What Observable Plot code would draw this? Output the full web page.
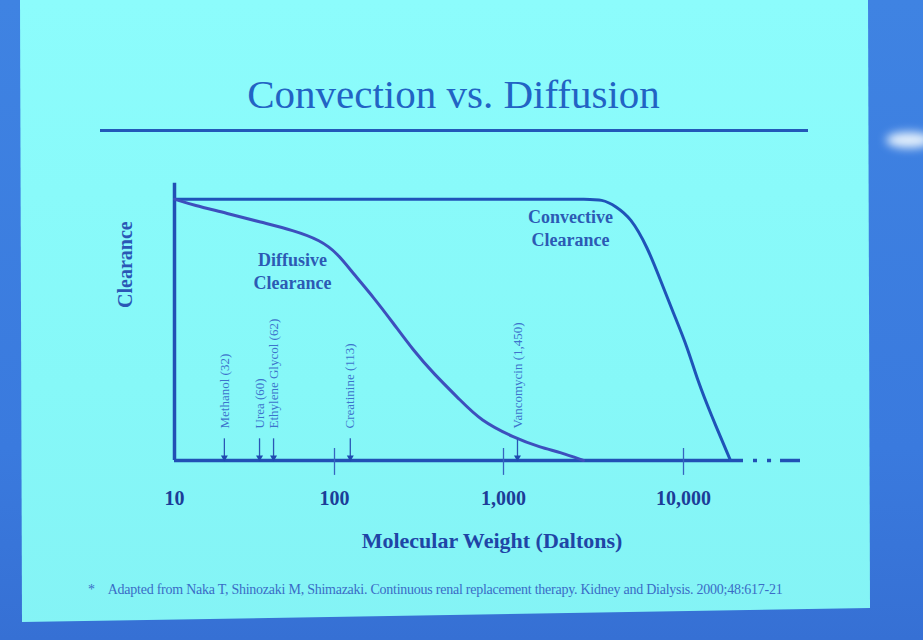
<!DOCTYPE html>
<html>
<head>
<meta charset="utf-8">
<script src="https://cdn.jsdelivr.net/npm/d3@7"></script>
<script src="https://cdn.jsdelivr.net/npm/@observablehq/plot@0.6"></script>
<style>
  html, body { margin: 0; padding: 0; }
  body { width: 923px; height: 640px; overflow: hidden; position: relative;
         background: linear-gradient(180deg, #3f83e2 0%, #3a7ade 70%, #3670d4 100%); }
  #slide { position: absolute; left: 0; top: 0; width: 923px; height: 640px;
           background: linear-gradient(180deg, #8cfcfc 0%, #86f8f8 60%, #84f3f5 100%);
           clip-path: polygon(20px 0px, 868px 0px, 870px 608px, 22px 622px); }
  #glare { position: absolute; left: 886px; top: 132px; width: 46px; height: 16px; border-radius: 50%;
           background: #f4fbff; filter: blur(5px); opacity: 0.9; }
  #title { position: absolute; left: 0; top: 74px; width: 907px; text-align: center;
           font-family: "Liberation Serif", serif; font-size: 41px; line-height: 41px; color: #2263c4; }
  #rule { position: absolute; left: 100px; top: 129px; width: 708px; height: 3px; background: #2358b8; }
  #chart { position: absolute; left: 0; top: 150px; }
  #note { position: absolute; left: 88px; top: 582px; font-family: "Liberation Serif", serif;
          font-size: 14px; color: #3a6cc6; white-space: nowrap; letter-spacing: -0.25px; }
</style>
</head>
<body>
<div id="slide"></div>
<div id="glare"></div>
<div id="title">Convection vs. Diffusion</div>
<div id="rule"></div>
<div id="chart"></div>
<div id="note">*&nbsp;&nbsp;&nbsp;&nbsp;Adapted from Naka T, Shinozaki M, Shimazaki. Continuous renal replacement therapy. Kidney and Dialysis. 2000;48:617-21</div>
<script>
// Convective clearance curve (molecular weight in Daltons, relative clearance)
const convectiveMW  = [10, 2680, 3590, 4190, 5080, 6310, 7450, 8800, 10520, 11960, 14130, 18240];
const convectiveClr = [1, 1, 1, 0.973, 0.931, 0.816, 0.69, 0.563, 0.433, 0.307, 0.18, 0];

// Diffusive clearance curve
const diffusiveMW  = [10, 13.1, 21.4, 34.5, 55.4, 81.7, 104, 129, 170, 223, 293, 385, 557, 731, 1137, 1605, 2074, 2782];
const diffusiveClr = [1, 0.977, 0.946, 0.912, 0.881, 0.843, 0.793, 0.716, 0.625, 0.525, 0.421, 0.333, 0.23, 0.153, 0.088, 0.05, 0.031, 0];

// Solute markers
const soluteNames = ["Methanol (32)", "Urea (60)", "Ethylene Glycol (62)", "Creatinine (113)", "Vancomycin (1,450)"];
const soluteMW    = [20.5, 34, 41.6, 124, 1196];

// Curve labels
const curveLabels = ["Diffusive\nClearance", "Convective\nClearance"];
const curveLabelMW  = [54.6, 2357];
const curveLabelClr = [0.728, 0.893];

// Axis ticks
const tickValues = [10, 100, 1000, 10000];
const crossTicks = [100, 1000, 10000];

// Axis end and broken continuation
const axisEndMW = 21540;
const breakStart = [24480, 29290, 34590];
const breakEnd   = [25760, 30840, 44670];

const conv = convectiveMW.map((x, i) => ({x, y: convectiveClr[i]}));
const diff = diffusiveMW.map((x, i) => ({x, y: diffusiveClr[i]}));
const solutes = soluteMW.map((x, i) => ({x, name: soluteNames[i]}));
const labels = curveLabelMW.map((x, i) => ({x, y: curveLabelClr[i], text: curveLabels[i]}));
const breaks = breakStart.map((s, i) => ({x1: s, x2: breakEnd[i]}));

const serif = "'Liberation Serif', 'Times New Roman', serif";

const chart = Plot.plot({
  width: 923,
  height: 420,
  marginLeft: 174,
  marginRight: 122,
  marginTop: 33,
  marginBottom: 110,
  style: {background: "transparent", fontFamily: serif, overflow: "visible"},
  x: {type: "log", domain: [10, 100, 1000, 10000, 45000], range: [174, 334, 503, 683, 800.6], axis: null},
  y: {domain: [0, 1.06], axis: null},
  marks: [
    // axes
    Plot.ruleX([10], {y1: 0, y2: 1.061, stroke: "#2150b5", strokeWidth: 3.5}),
    Plot.ruleY([0], {x1: 10, x2: axisEndMW, stroke: "#2150b5", strokeWidth: 3.5}),
    Plot.ruleY(breaks, {y: 0, x1: "x1", x2: "x2", stroke: "#2150b5", strokeWidth: 3.5}),
    Plot.ruleX(crossTicks, {y1: -0.057, y2: 0.046, stroke: "#3565c0", strokeWidth: 1.3}),
    Plot.axisX({ticks: tickValues, tickFormat: d3.format(","), tickSize: 0, tickPadding: 30,
                label: null, fontSize: 20, fontWeight: "bold", fill: "#1c3d98"}),
    Plot.text(["Molecular Weight (Daltons)"], {frameAnchor: "bottom", dy: 87, dx: 4,
                fontSize: 22, fontWeight: "bold", fill: "#1f45a6"}),
    Plot.text(["Clearance"], {frameAnchor: "left", rotate: -90, dx: -49, dy: -14,
                fontSize: 20, fontWeight: "bold", fill: "#2a57b6", letterSpacing: "0.5px"}),
    // curves
    Plot.line(conv, {x: "x", y: "y", curve: "basis", stroke: "#1f53b8", strokeWidth: 3}),
    Plot.line(diff, {x: "x", y: "y", curve: "basis", stroke: "#3d4fbd", strokeWidth: 3}),
    // solute markers
    Plot.ruleX(solutes, {x: "x", y1: 0, y2: 0.083, stroke: "#2a55b5", strokeWidth: 1.3}),
    Plot.dot(solutes, {x: "x", y: 0, dy: -3, symbol: "triangle", rotate: 180, r: 2.6, fill: "#1f4ab0", stroke: "none"}),
    Plot.text(solutes, {x: "x", y: 0, text: "name", rotate: -90, textAnchor: "start", dy: -32,
                        lineAnchor: "middle", fontSize: 13, fill: "#3d73cc"}),
    // curve labels
    Plot.text(labels, {x: "x", y: "y", text: "text", fontSize: 18, fontWeight: "bold", lineHeight: 1.28,
                       fill: "#2c5ab4", letterSpacing: "1.5px"})
  ]
});
document.getElementById("chart").appendChild(chart);
</script>
</body>
</html>
